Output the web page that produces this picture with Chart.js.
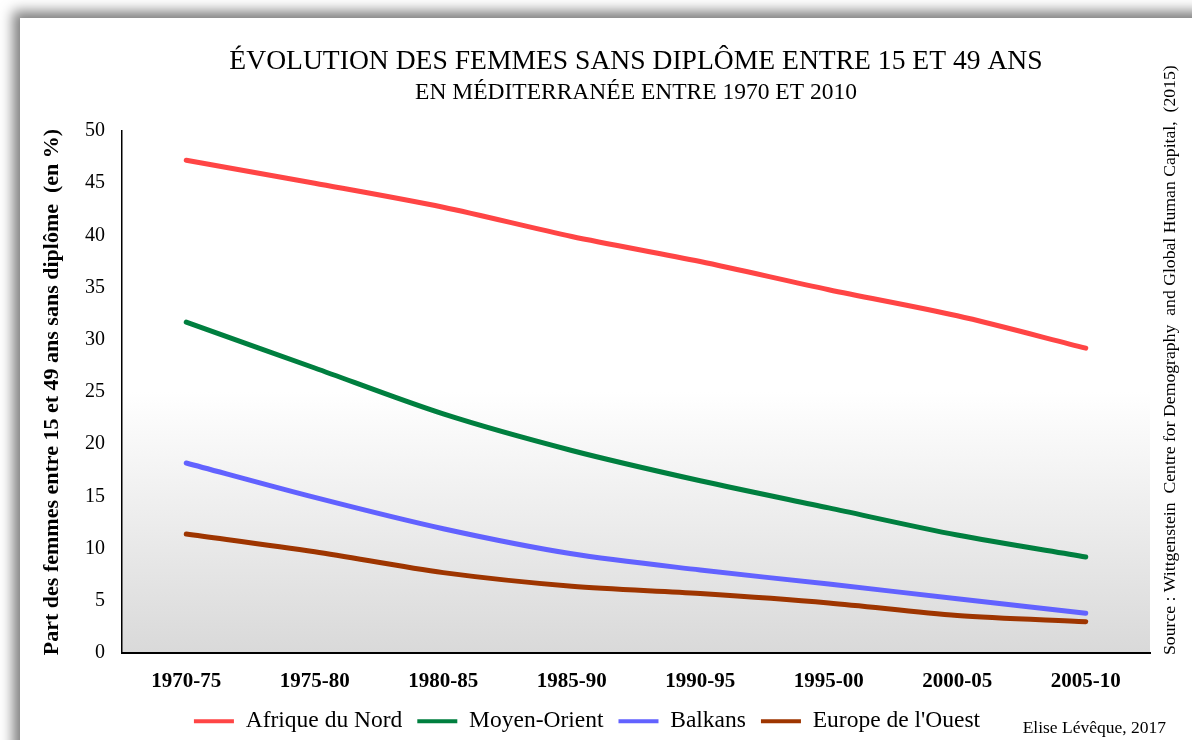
<!DOCTYPE html>
<html>
<head>
<meta charset="utf-8">
<script src="https://cdn.jsdelivr.net/npm/chart.js@4.4.1/dist/chart.umd.min.js"></script>
<style>
    html, body { margin: 0; padding: 0; background: #fff; overflow: hidden; }
    #card { position: absolute; left: 20px; top: 18px; width: 1300px; height: 900px; background: #fff;
            box-shadow: -4px -4px 12px 3px rgba(0,0,0,0.5); }
    #wrap { position: absolute; left: 0; top: 0; width: 1192px; height: 740px; }
</style>
</head>
<body>
<div id="card"></div>
<div id="wrap"><canvas id="myChart" width="1192" height="740"></canvas></div>
<script>
// Women without diploma, aged 15-49, Mediterranean regions (%)
const periods = ['1970-75', '1975-80', '1980-85', '1985-90', '1990-95', '1995-00', '2000-05', '2005-10'];
const afriqueNord = [47.2, 45.0, 42.7, 39.9, 37.5, 34.8, 32.3, 29.2];
const moyenOrient = [31.7, 27.3, 22.9, 19.4, 16.5, 13.9, 11.3, 9.2];
const balkans     = [18.2, 14.9, 11.9, 9.5, 7.95, 6.6, 5.2, 3.8];
const europeOuest = [11.4, 9.7, 7.7, 6.4, 5.7, 4.8, 3.6, 3.0];
const yTicks = [0, 5, 10, 15, 20, 25, 30, 35, 40, 45, 50];

const serif = "'Liberation Serif', 'Times New Roman', serif";

function line(label, data, color) {
    return {
        label: label,
        data: data,
        borderColor: color,
        backgroundColor: color,
        borderWidth: 5,
        borderCapStyle: 'round',
        pointRadius: 0,
        tension: 0.3,
        fill: false
    };
}

// gradient behind the plot + source text + credit
const decor = {
    id: 'decor',
    beforeDraw(chart) {
        const {ctx, chartArea: a} = chart;
        const g = ctx.createLinearGradient(0, a.top, 0, a.bottom);
        g.addColorStop(0, '#ffffff');
        g.addColorStop(0.5, '#ffffff');
        g.addColorStop(1, '#d9d9d9');
        ctx.save();
        ctx.fillStyle = g;
        ctx.fillRect(a.left, a.top, a.right - a.left, a.bottom - a.top);
        ctx.restore();
    },
    afterDraw(chart) {
        const ctx = chart.ctx;
        ctx.save();
        ctx.fillStyle = '#000';
        ctx.font = '17.7px ' + serif;
        ctx.translate(1170, 655);
        ctx.rotate(-Math.PI / 2);
        ctx.textAlign = 'left';
        ctx.textBaseline = 'middle';
        ctx.fillText('Source : Wittgenstein  Centre for Demography  and Global Human Capital,  (2015)', 0, 0);
        ctx.restore();

        ctx.save();
        ctx.fillStyle = '#000';
        ctx.font = '17.5px ' + serif;
        ctx.textAlign = 'right';
        ctx.textBaseline = 'middle';
        ctx.fillText('Elise Lévêque, 2017', 1166, 728);
        ctx.restore();
    }
};

const ctx = document.getElementById('myChart');
const myChart = new Chart(ctx, {
    type: 'line',
    data: {
        labels: periods,
        datasets: [
            line('Afrique du Nord', afriqueNord, '#ff4545'),
            line('Moyen-Orient', moyenOrient, '#007f3f'),
            line('Balkans', balkans, '#6262ff'),
            line("Europe de l'Ouest", europeOuest, '#9e3500')
        ]
    },
    options: {
        responsive: false,
        animation: false,
        layout: { padding: { left: 12, right: 30, top: 0, bottom: -3 } },
        scales: {
            x: {
                offset: true,
                grid: { display: false, drawTicks: false },
                border: { display: true, color: '#000', width: 2 },
                ticks: { color: '#000', padding: 16, font: { family: serif, size: 21, weight: 'bold' } },
                afterFit: s => { s.height = 41.5; }
            },
            y: {
                min: 0,
                max: 50,
                afterBuildTicks: s => { s.ticks = yTicks.map(v => ({ value: v })); },
                grid: { display: false, drawTicks: false },
                border: { display: true, color: '#000', width: 1.5 },
                ticks: { color: '#000', padding: 17, font: { family: serif, size: 20 } },
                title: {
                    display: true,
                    text: 'Part des femmes entre 15 et 49 ans sans diplôme  (en %)',
                    color: '#000',
                    font: { family: serif, size: 22, weight: 'bold' },
                    padding: { top: 27, bottom: 0 }
                },
                afterFit: s => { s.width = 110; }
            },
            yRight: {
                position: 'right',
                display: true,
                grid: { display: false, drawTicks: false },
                border: { display: false },
                ticks: { display: false },
                afterFit: s => { s.width = 12; }
            }
        },
        plugins: {
            title: {
                display: true,
                fullSize: false,
                text: 'ÉVOLUTION DES FEMMES SANS DIPLÔME ENTRE 15 ET 49 ANS',
                color: '#000',
                font: { family: serif, size: 27.6, weight: 'normal' },
                padding: { top: 45.4, bottom: 0 }
            },
            subtitle: {
                display: true,
                fullSize: false,
                text: 'EN MÉDITERRANÉE ENTRE 1970 ET 2010',
                color: '#000',
                font: { family: serif, size: 23.5, weight: 'normal' },
                padding: { top: 0, bottom: 24.3 }
            },
            legend: {
                position: 'bottom',
                labels: {
                    color: '#000',
                    boxWidth: 40,
                    boxHeight: 4,
                    padding: 15,
                    font: { family: serif, size: 23.5 },
                    generateLabels: chart => Chart.defaults.plugins.legend.labels.generateLabels(chart)
                        .map(item => Object.assign(item, { lineWidth: 0 }))
                }
            },
            tooltip: { enabled: false }
        }
    },
    plugins: [decor]
});
</script>
</body>
</html>
